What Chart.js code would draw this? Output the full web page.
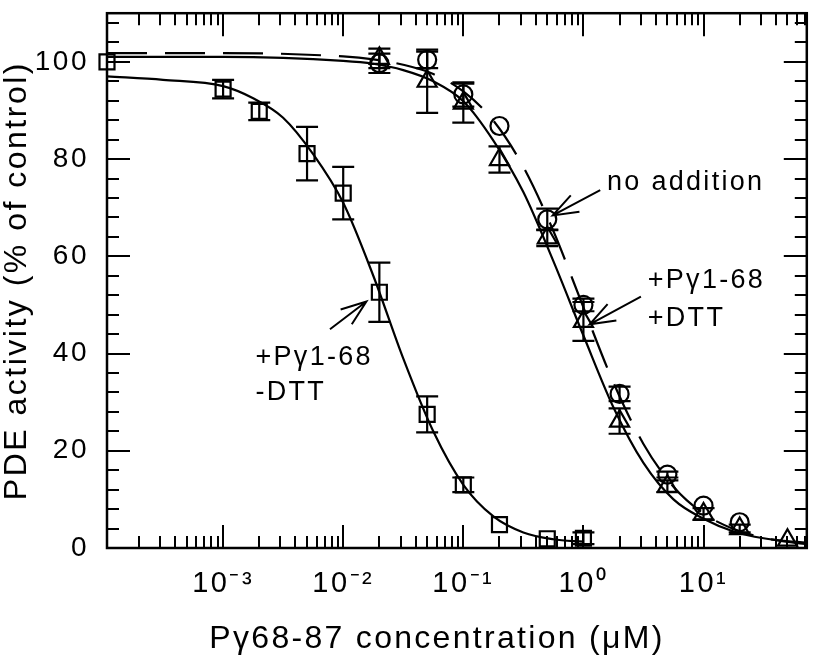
<!DOCTYPE html>
<html><head><meta charset="utf-8">
<script src="https://cdn.jsdelivr.net/npm/chart.js@4"></script>
<style>html,body{margin:0;padding:0;background:#fff}canvas{display:block}</style>
</head><body>
<canvas id="c" width="820" height="660"></canvas>
<script>
// ---------------- data ----------------
// +Pγ1-68 -DTT (open squares)
const sqX   = [1.08e-4, 1e-3, 2e-3, 5e-3, 1e-2, 2e-2, 5e-2, 0.1, 0.2, 0.5, 1.0];
const sqY   = [100, 94.4, 89.8, 81.1, 73.0, 52.6, 27.5, 13.0, 4.8, 1.9, 2.0];
const sqErr = [0, 1.9, 1.8, 5.5, 5.4, 6.1, 3.7, 1.5, 0, 0, 1.2];
// no addition (open circles)
const ciX   = [0.02, 0.05, 0.1, 0.2, 0.5, 1, 2, 5, 10, 20];
const ciY   = [99.7, 100.4, 93.3, 86.8, 67.6, 50.0, 31.7, 15.1, 8.7, 5.3];
const ciErr = [2.0, 1.7, 2.5, 0, 2.2, 1.3, 1.5, 0.6, 0, 0];
// +Pγ1-68 +DTT (open triangles)
const trX   = [0.02, 0.05, 0.1, 0.2, 0.5, 1, 2, 5, 10, 20, 50];
const trY   = [100.7, 96.0, 91.5, 79.9, 63.8, 46.6, 26.1, 12.7, 7.0, 4.0, 1.6];
const trErr = [2.0, 6.5, 4.0, 2.7, 1.7, 4.0, 2.6, 1.2, 1.2, 0.8, 0];

// fitted curves
const sqFitX = [1.08e-4, 3.16e-4, 1e-3, 1.78e-3, 3.16e-3, 5.62e-3, 1e-2, 1.78e-2, 3.16e-2, 5.62e-2, 0.1, 0.178, 0.316, 0.562, 1.0];
const sqFitY = [97.0, 96.3, 95.0, 92.5, 88.5, 81.0, 71.0, 56.0, 39.0, 24.0, 13.0, 6.5, 3.2, 1.8, 1.3];
const fitX   = [1.08e-4, 1e-3, 1e-2, 1.78e-2, 3.16e-2, 5.62e-2, 0.1, 0.178, 0.316, 0.562, 1.0, 1.78, 3.16, 5.62, 10, 17.8, 31.6, 56.2, 72.4];
const ciFitY = [101.8, 101.8, 101.1, 100.5, 99.4, 97.5, 93.9, 87.9, 78.4, 65.2, 49.5, 34.0, 21.4, 12.6, 7.1, 3.9, 2.1, 1.1, 0.8];
const trFitY = [101.0, 101.0, 100.2, 99.6, 98.3, 96.0, 91.9, 83.8, 73.2, 59.0, 43.7, 28.9, 17.5, 10.0, 6.0, 3.4, 2.0, 1.3, 1.1];

// axes
const xMin = 1.08e-4, xMax = 72.4;
const yMin = 0, yMax = 110;
const xMajorTicks = [1e-3, 1e-2, 1e-1, 1, 10];
const xTickLabels = ['10\u207B\u00B3', '10\u207B\u00B2', '10\u207B\u00B9', '10\u2070', '10\u00B9'];
const yMajorTicks = [0, 20, 40, 60, 80, 100];
const yTickLabels = ['0', '20', '40', '60', '80', '100'];
const yMinorStep = 4;
const xTitle = 'P\u03B368-87 concentration (\u03BCM)';
const yTitle = 'PDE activity (% of control)';

// annotations (data coordinates)
const notes = [
  {text: 'no addition', x: 1.57, y: 73.6},
  {text: '+P\u03B31-68', x: 3.43, y: 53.4},
  {text: '+DTT', x: 3.43, y: 45.7},
  {text: '+P\u03B31-68', x: 1.86e-3, y: 37.7},
  {text: '-DTT', x: 1.86e-3, y: 30.5}
];
const arrows = [
  {x1: 1.38, y1: 73.6, x2: 0.555, y2: 68.4},
  {x1: 3.01, y1: 51.7, x2: 1.127, y2: 46.0},
  {x1: 7.76e-3, y1: 45.0, x2: 0.0156, y2: 50.7}
];

// ---------------- chart ----------------
const FONT = "'Liberation Sans', Arial, Helvetica, sans-serif";
Chart.defaults.font.family = FONT;
Chart.defaults.color = '#000';

const pts = (xs, ys) => xs.map((x, i) => ({x: x, y: ys[i]}));
const isMajorX = v => xMajorTicks.findIndex(t => Math.abs(Math.log10(t) - Math.log10(v)) < 1e-6);

const curve = (data, dash) => ({
  type: 'line', data: data, borderColor: '#000', borderWidth: 2.2, borderDash: dash || [],
  pointRadius: 0, cubicInterpolationMode: 'monotone', fill: false
});
const marks = (label, data, style, r) => ({
  type: 'scatter', label: label, data: data, pointStyle: style, pointRadius: r,
  borderColor: '#000', backgroundColor: 'rgba(0,0,0,0)', pointBorderWidth: 2.2, borderWidth: 2.2, clip: false
});

const errs = [[sqX, sqY, sqErr], [ciX, ciY, ciErr], [trX, trY, trErr]];

const decor = {
  id: 'decor',
  beforeDraw(chart) { chart.ctx.letterSpacing = '2.5px'; },
  afterDatasetsDraw(chart) {
    const ctx = chart.ctx, xs = chart.scales.x, ys = chart.scales.y, a = chart.chartArea;
    ctx.save();
    ctx.strokeStyle = '#000';
    // error bars
    ctx.lineWidth = 2.2;
    errs.forEach(([X, Y, E]) => {
      X.forEach((xv, i) => {
        if (!E[i]) return;
        const px = xs.getPixelForValue(xv);
        const p1 = ys.getPixelForValue(Y[i] + E[i]), p2 = ys.getPixelForValue(Y[i] - E[i]);
        ctx.beginPath();
        ctx.moveTo(px, p1); ctx.lineTo(px, p2);
        ctx.moveTo(px - 11, p1); ctx.lineTo(px + 11, p1);
        ctx.moveTo(px - 11, p2); ctx.lineTo(px + 11, p2);
        ctx.stroke();
      });
    });
    // inward ticks
    ctx.lineWidth = 2;
    ctx.beginPath();
    xs.ticks.forEach(t => {
      const px = Math.round(xs.getPixelForValue(t.value));
      const L = isMajorX(t.value) >= 0 ? 23 : 12;
      ctx.moveTo(px, a.bottom); ctx.lineTo(px, a.bottom - L);
      ctx.moveTo(px, a.top); ctx.lineTo(px, a.top + L);
    });
    ys.ticks.forEach(t => {
      const py = Math.round(ys.getPixelForValue(t.value));
      const L = (t.value % 20 === 0) ? 23 : 12;
      ctx.moveTo(a.left, py); ctx.lineTo(a.left + L, py);
      ctx.moveTo(a.right, py); ctx.lineTo(a.right - L, py);
    });
    ctx.stroke();
    // frame
    ctx.lineWidth = 2.5;
    ctx.strokeRect(a.left, a.top, a.right - a.left, a.bottom - a.top);
    // arrows
    ctx.lineWidth = 2;
    arrows.forEach(ar => {
      const x1 = xs.getPixelForValue(ar.x1), y1 = ys.getPixelForValue(ar.y1);
      const x2 = xs.getPixelForValue(ar.x2), y2 = ys.getPixelForValue(ar.y2);
      const ang = Math.atan2(y1 - y2, x1 - x2), L = 27, h = 20 * Math.PI / 180;
      ctx.beginPath();
      ctx.moveTo(x1, y1); ctx.lineTo(x2, y2);
      ctx.moveTo(x2 + L * Math.cos(ang + h), y2 + L * Math.sin(ang + h));
      ctx.lineTo(x2, y2);
      ctx.lineTo(x2 + L * Math.cos(ang - h), y2 + L * Math.sin(ang - h));
      ctx.stroke();
    });
    // annotation text
    ctx.fillStyle = '#000';
    ctx.font = '27px ' + FONT;
    ctx.letterSpacing = '2.3px';
    ctx.textAlign = 'left';
    ctx.textBaseline = 'alphabetic';
    notes.forEach(n => ctx.fillText(n.text, xs.getPixelForValue(n.x), ys.getPixelForValue(n.y)));
    // x axis title
    ctx.font = '32px ' + FONT;
    ctx.letterSpacing = '2.3px';
    ctx.textAlign = 'center';
    ctx.fillText(xTitle, a.left + 330, 648);
    ctx.restore();
  }
};

new Chart(document.getElementById('c'), {
  data: {
    datasets: [
      curve(pts(sqFitX, sqFitY)),
      curve(pts(fitX, ciFitY), [40, 18]),
      curve(pts(fitX, trFitY)),
      marks('+P\u03B31-68 -DTT', pts(sqX, sqY), 'rect', 10.6),
      marks('no addition', pts(ciX, ciY), 'circle', 9),
      marks('+P\u03B31-68 +DTT', pts(trX, trY), 'triangle', 11)
    ]
  },
  options: {
    responsive: false, animation: false, devicePixelRatio: 1,
    layout: {padding: {top: 3, right: 8, left: 0, bottom: 0}},
    plugins: {legend: {display: false}, tooltip: {enabled: false}},
    scales: {
      x: {
        type: 'logarithmic', position: 'bottom', min: xMin, max: xMax,
        grid: {display: false, drawTicks: false}, border: {display: false},
        ticks: {
          autoSkip: false, maxRotation: 0, minRotation: 0, padding: 19, color: '#000',
          font: {size: 29},
          callback: v => { const i = isMajorX(v); return i >= 0 ? xTickLabels[i] : ''; }
        },
        afterBuildTicks: s => {
          const t = [];
          for (let e = -4; e <= 1; e++) for (let m = 1; m <= 9; m++) {
            const v = m * Math.pow(10, e);
            if (v >= xMin && v <= xMax) t.push({value: v});
          }
          s.ticks = t;
        },
        afterFit: s => { s.height = 112; s.paddingLeft = 0; s.paddingRight = 0; s.paddingTop = 0; s.paddingBottom = 0; }
      },
      y: {
        type: 'linear', position: 'left', min: yMin, max: yMax,
        grid: {display: false, drawTicks: false}, border: {display: false},
        ticks: {
          autoSkip: false, padding: 18, color: '#000', font: {size: 28},
          callback: v => { const i = yMajorTicks.indexOf(v); return i >= 0 ? yTickLabels[i] : ''; }
        },
        title: {display: true, text: yTitle, color: '#000', font: {size: 32, lineHeight: 1}, padding: {top: 1, bottom: 0}},
        afterBuildTicks: s => {
          const t = [];
          for (let v = yMin; v < yMax; v += yMinorStep) t.push({value: v});
          s.ticks = t;
        },
        afterFit: s => { s.width = 107; s.paddingLeft = 0; s.paddingRight = 0; s.paddingTop = 0; s.paddingBottom = 0; }
      }
    }
  },
  plugins: [decor]
});
</script>
</body></html>
